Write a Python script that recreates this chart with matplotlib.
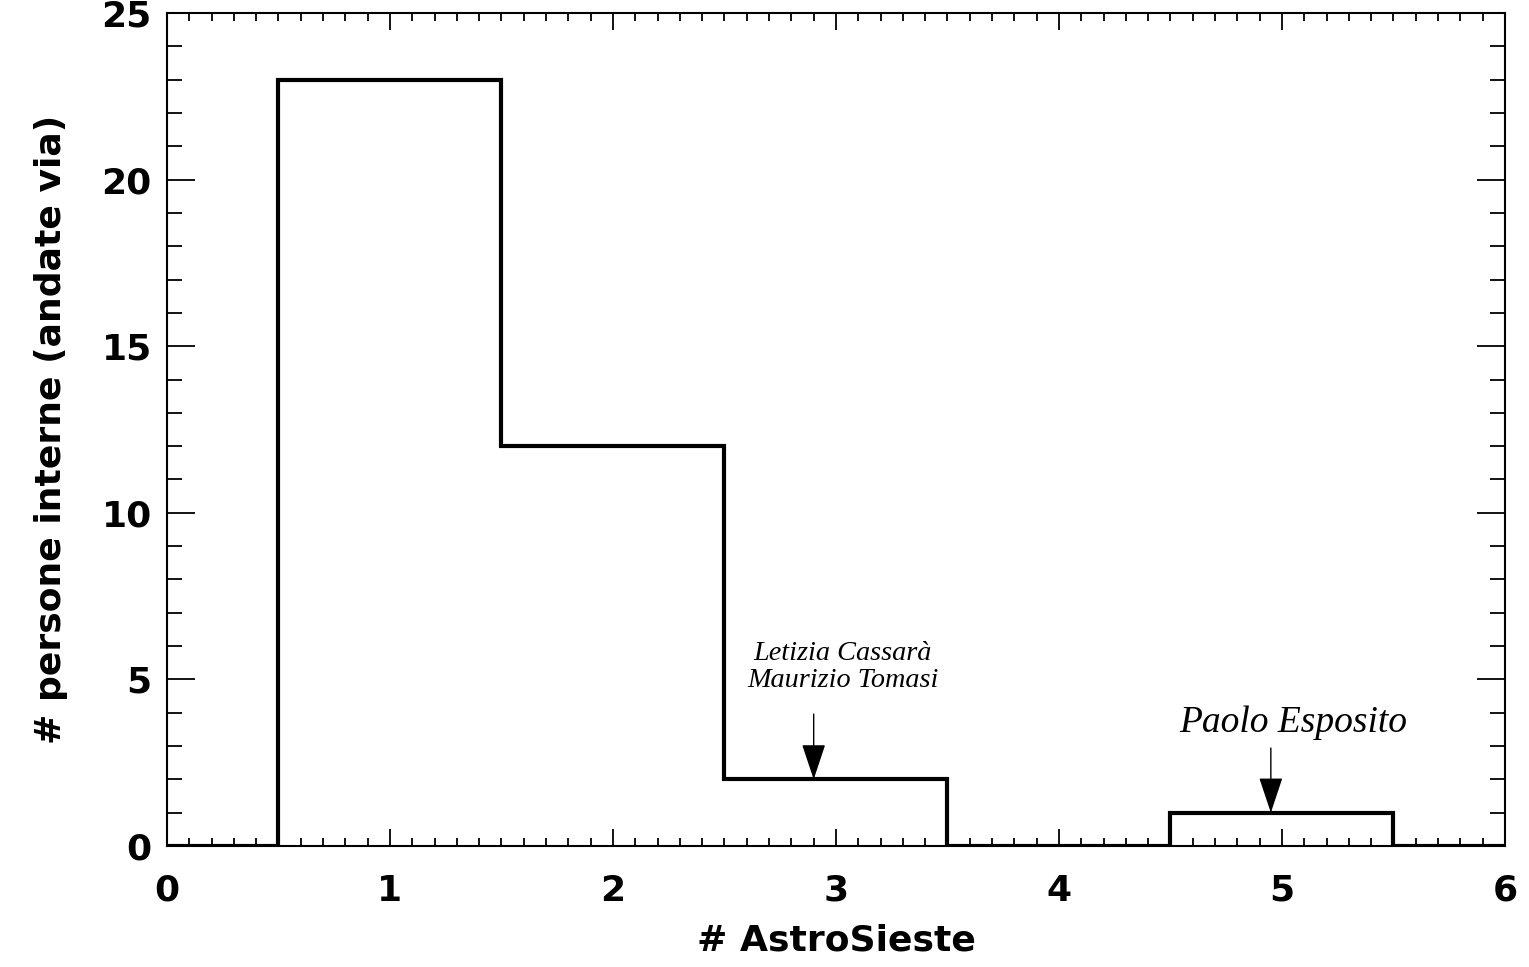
import matplotlib
matplotlib.use("Agg")
import matplotlib.pyplot as plt
from matplotlib.ticker import MultipleLocator

# Data
n_astrosieste = [0, 1, 2, 3, 4, 5, 6]
persone = [0, 23, 12, 2, 0, 1, 0]
x_ticks = [0, 1, 2, 3, 4, 5, 6]
y_ticks = [0, 5, 10, 15, 20, 25]
annot1_text = "Letizia Cassarà\nMaurizio Tomasi"
annot2_text = "Paolo Esposito"

fig = plt.figure(figsize=(15.29, 9.67), dpi=100)
ax = fig.add_axes([0.1092, 0.1251, 0.8751, 0.8615])

ax.step(n_astrosieste, persone, where='mid', color='black', lw=3.0, solid_joinstyle='miter')

ax.set_xlim(0, 6)
ax.set_ylim(0, 25)
ax.set_xticks(x_ticks)
ax.set_yticks(y_ticks)
ax.xaxis.set_minor_locator(MultipleLocator(0.1))
ax.yaxis.set_minor_locator(MultipleLocator(1))

for s in ax.spines.values():
    s.set_linewidth(1.5)

ax.tick_params(which='both', direction='in', top=True, right=True, width=1.3, color='black')
ax.tick_params(axis='x', which='major', length=12, pad=20)
ax.tick_params(axis='x', which='minor', length=6)
ax.tick_params(axis='y', which='major', length=20, pad=11)
ax.tick_params(axis='y', which='minor', length=11)

tickfont = dict(family='DejaVu Sans', weight='bold', size=26)
for lab in ax.get_xticklabels() + ax.get_yticklabels():
    lab.set_fontfamily('DejaVu Sans')
    lab.set_fontweight('bold')
    lab.set_fontsize(26)

ax.set_xlabel("# AstroSieste", fontdict=tickfont, labelpad=11)
ax.set_ylabel("# persone interne (andate via)", fontdict=tickfont, labelpad=24)

# Annotations
arrow_props = dict(arrowstyle='-|>,head_length=1.5,head_width=0.5', color='black',
                   lw=1.0, shrinkA=0, shrinkB=0, mutation_scale=15)
ax.text(3.03, 5.37, annot1_text, ha='center', va='center',
        fontfamily='Liberation Serif', style='italic', fontsize=20.3, linespacing=1.1)
ax.annotate("", xy=(2.9, 2.0), xytext=(2.9, 3.96), arrowprops=arrow_props)
ax.text(5.05, 3.69, annot2_text, ha='center', va='center',
        fontfamily='Liberation Serif', style='italic', fontsize=27)
ax.annotate("", xy=(4.95, 1.0), xytext=(4.95, 2.94), arrowprops=arrow_props)

fig.savefig("out.png", dpi=100)
